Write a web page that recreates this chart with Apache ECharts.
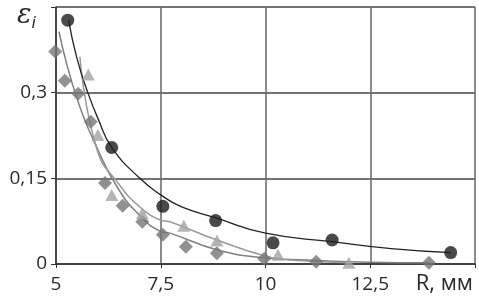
<!DOCTYPE html>
<html>
<head>
<meta charset="utf-8">
<script src="https://cdn.jsdelivr.net/npm/echarts@6/dist/echarts.min.js"></script>
<style>
  html, body { margin: 0; padding: 0; background: #fff; }
  #chart { width: 479px; height: 302px; }
</style>
</head>
<body>
<div id="chart"></div>
<script>
// точки (R, мм ; ε_i)
var circleX = [5.28, 6.33, 7.55, 8.81, 10.18, 11.59, 14.42];
var circleY = [0.427, 0.204, 0.101, 0.076, 0.037, 0.042, 0.020];

var triX = [5.77, 6.00, 6.33, 7.06, 8.05, 8.84, 10.30, 11.99];
var triY = [0.332, 0.226, 0.121, 0.089, 0.067, 0.041, 0.016, 0.002];

var diaX = [4.98, 5.21, 5.53, 5.83, 6.17, 6.59, 7.06, 7.55, 8.10, 8.84, 9.97, 11.21, 13.90];
var diaY = [0.372, 0.321, 0.298, 0.249, 0.142, 0.102, 0.074, 0.051, 0.030, 0.019, 0.009, 0.004, 0.002];

// линии тренда
var circleFitX = [5.30, 5.50, 5.76, 6.00, 6.33, 7.00, 7.50, 8.00, 8.80, 10.0, 11.59, 13.0, 14.42];
var circleFitY = [0.427, 0.36, 0.30, 0.255, 0.204, 0.150, 0.121, 0.100, 0.081, 0.054, 0.039, 0.027, 0.020];

var triFitX = [5.57, 5.98, 6.50, 7.00, 7.50, 7.72, 8.84, 10.03, 10.58, 11.99];
var triFitY = [0.363, 0.200, 0.140, 0.100, 0.077, 0.074, 0.042, 0.013, 0.007, 0.002];

var diaFitX = [5.07, 5.50, 6.00, 6.50, 7.00, 7.50, 7.72, 8.84, 9.96, 11.0, 12.5, 13.90];
var diaFitY = [0.407, 0.290, 0.200, 0.130, 0.085, 0.057, 0.054, 0.025, 0.011, 0.007, 0.003, 0.002];

var xTicks = ['5', '7,5', '10', '12,5', ''];
var yTicks = ['0', '0,15', '0,3', ''];
var xName = 'R, мм';

function pairs(xs, ys) {
    var out = [];
    for (var i = 0; i < xs.length; i++) out.push([xs[i], ys[i]]);
    return out;
}

var chart = echarts.init(document.getElementById('chart'), null, { renderer: 'canvas' });

var font = '"Open Sans", "Noto Sans", sans-serif';

chart.setOption({
    animation: false,
    backgroundColor: '#fff',
    grid: { left: 56, right: 4, top: 7, bottom: 38 },
    graphic: [{
        type: 'text',
        left: 17,
        top: 2,
        style: {
            text: '{e|ε}{s|i}',
            rich: {
                e: { fontFamily: 'DejaVu Serif', fontStyle: 'italic', fontSize: 27, fill: '#2a2a2a' },
                s: { fontFamily: 'DejaVu Sans', fontStyle: 'italic', fontSize: 16, fill: '#2a2a2a', padding: [16, 0, 0, 0] }
            }
        }
    }],
    xAxis: {
        type: 'value',
        min: 5,
        max: 15,
        interval: 2.5,
        name: xName,
        nameLocation: 'end',
        nameGap: -2,
        nameTextStyle: {
            color: '#2a2a2a',
            fontFamily: font,
            fontSize: 22,
            align: 'right',
            verticalAlign: 'top',
            padding: [9, 0, 0, 0]
        },
        axisLine: { show: true, lineStyle: { color: '#333', width: 1.5 } },
        axisTick: { show: true, length: 4, lineStyle: { color: '#333' } },
        axisLabel: {
            color: '#2a2a2a',
            fontFamily: font,
            fontSize: 19,
            margin: 11,
            formatter: function (v) { return xTicks[Math.round((v - 5) / 2.5)]; }
        },
        splitLine: { show: true, lineStyle: { color: '#666', width: 1.5 } }
    },
    yAxis: {
        type: 'value',
        min: 0,
        max: 0.45,
        interval: 0.15,
        axisLine: { show: true, lineStyle: { color: '#333', width: 1.5 } },
        axisTick: { show: true, length: 5, lineStyle: { color: '#333' } },
        axisLabel: {
            color: '#2a2a2a',
            fontFamily: font,
            fontSize: 19,
            margin: 9,
            formatter: function (v) { return yTicks[Math.round(v / 0.15)]; }
        },
        splitLine: { show: true, lineStyle: { color: '#444', width: 1.5 } }
    },
    series: [
        {
            name: 'diaFit', type: 'line', smooth: true, symbol: 'none',
            lineStyle: { color: '#7f7f7f', width: 1.5 },
            data: pairs(diaFitX, diaFitY), z: 2
        },
        {
            name: 'triFit', type: 'line', smooth: true, symbol: 'none',
            lineStyle: { color: '#9a9a9a', width: 1.5 },
            data: pairs(triFitX, triFitY), z: 2
        },
        {
            name: 'circleFit', type: 'line', smooth: true, symbol: 'none',
            lineStyle: { color: '#222', width: 1.3 },
            data: pairs(circleFitX, circleFitY), z: 2
        },
        {
            name: 'dia', type: 'scatter', symbol: 'diamond', symbolSize: [14, 14],
            clip: false,
            itemStyle: { color: '#767676' },
            data: pairs(diaX, diaY), z: 3
        },
        {
            name: 'tri', type: 'scatter', symbol: 'triangle', symbolSize: [13, 12],
            clip: false,
            itemStyle: { color: '#a2a2a2' },
            data: pairs(triX, triY), z: 3
        },
        {
            name: 'circle', type: 'scatter', symbol: 'circle', symbolSize: 13,
            clip: false,
            itemStyle: { color: '#1c1c1c' },
            data: pairs(circleX, circleY), z: 4
        }
    ]
});
</script>
</body>
</html>
